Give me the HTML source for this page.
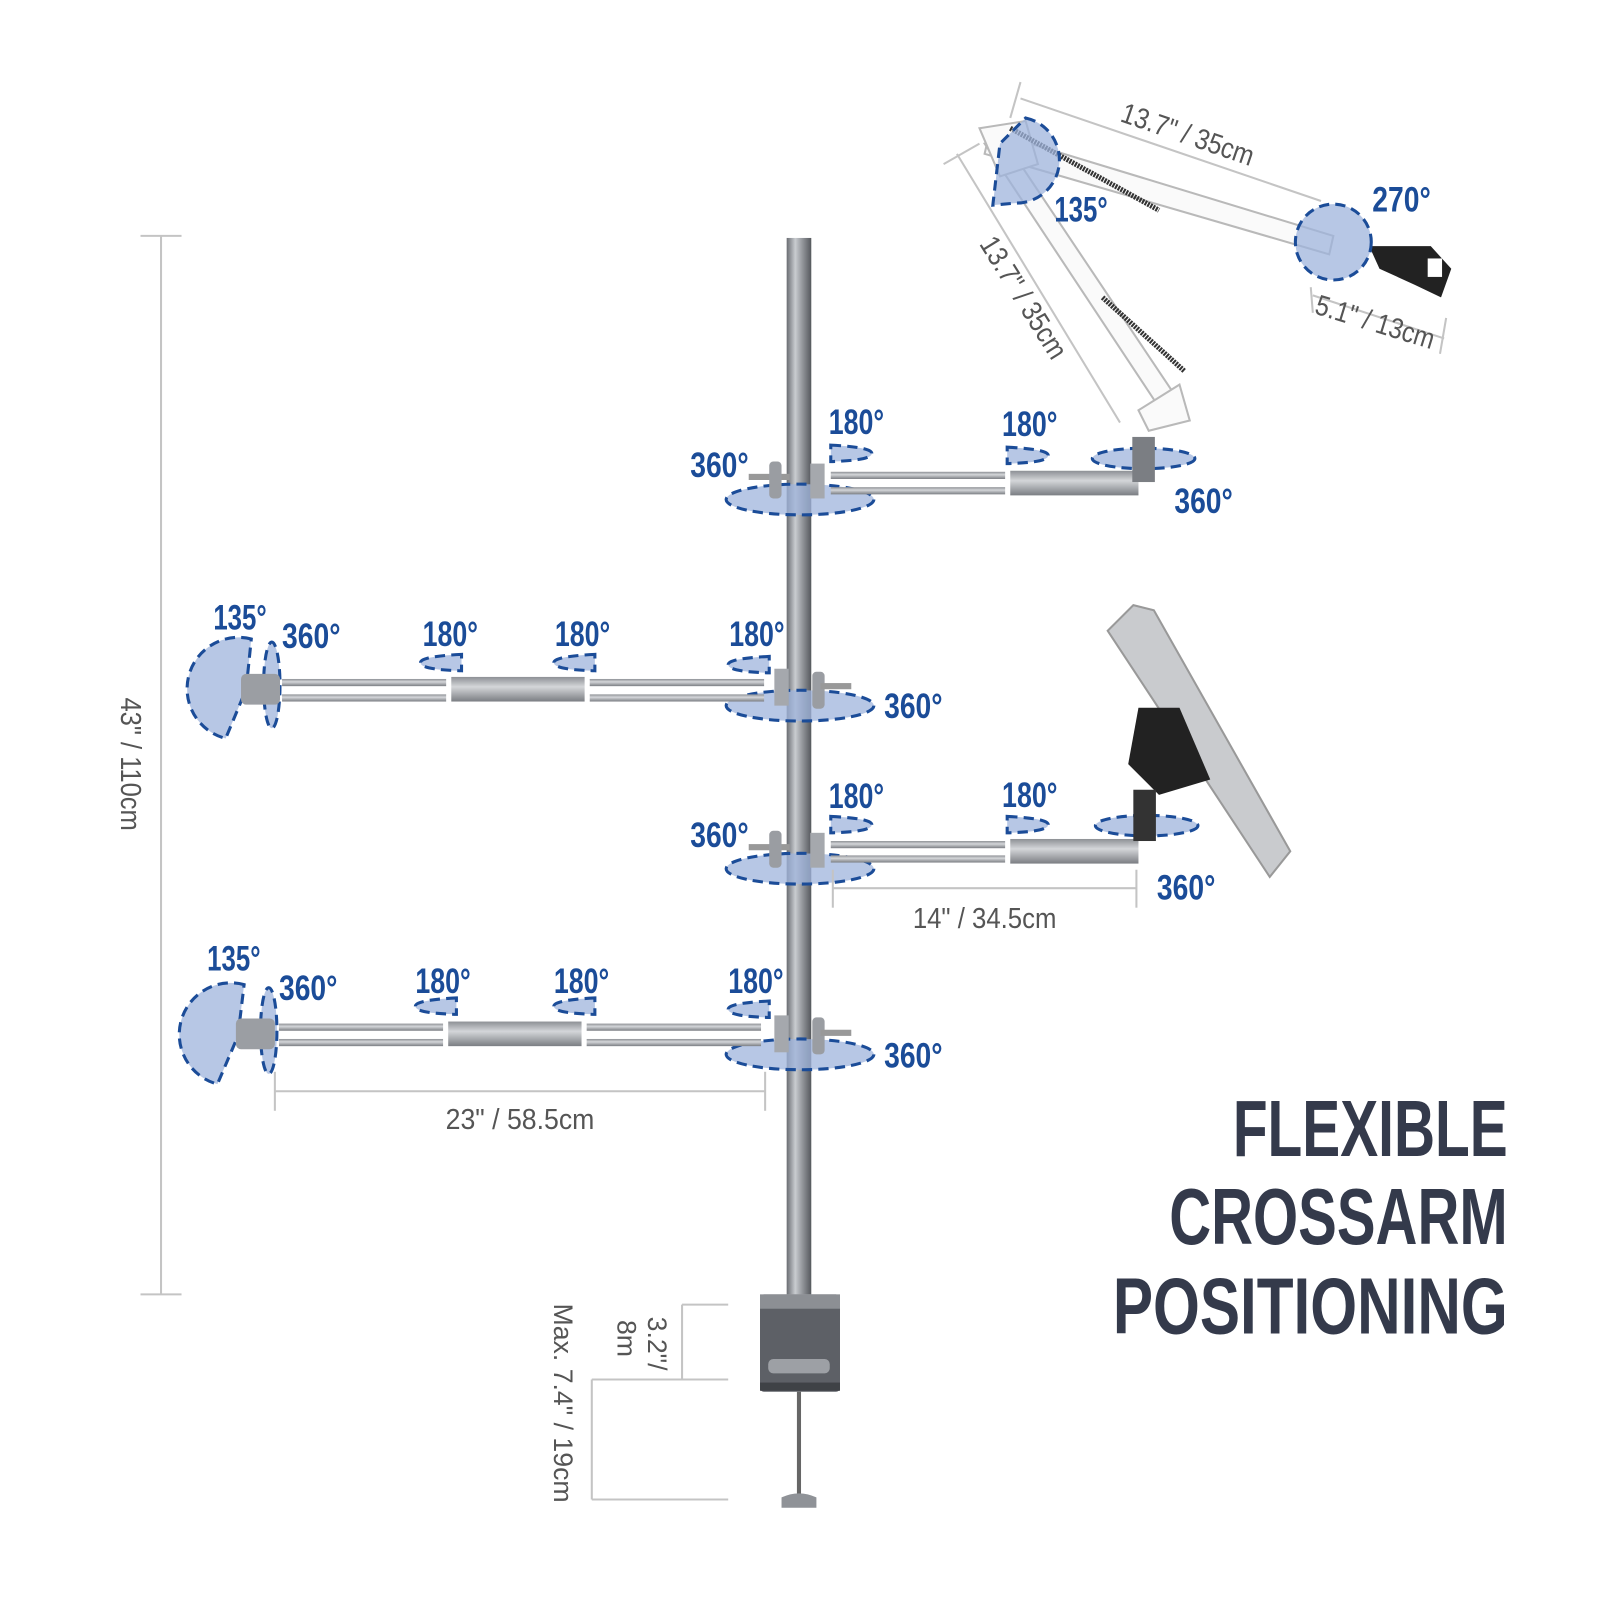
<!DOCTYPE html>
<html><head><meta charset="utf-8"><style>html,body{margin:0;padding:0;background:#fff}svg{display:block}</style></head>
<body>
<svg width="1600" height="1600" viewBox="0 0 1560 1560" xmlns="http://www.w3.org/2000/svg">
<defs>
<linearGradient id="pole" x1="0" x2="1"><stop offset="0" stop-color="#6a6d72"/><stop offset=".35" stop-color="#c9ccd0"/><stop offset=".6" stop-color="#9a9da2"/><stop offset="1" stop-color="#55585d"/></linearGradient>
<linearGradient id="bar" x1="0" y1="0" x2="0" y2="1"><stop offset="0" stop-color="#8d9095"/><stop offset=".4" stop-color="#d4d6d9"/><stop offset="1" stop-color="#7b7e83"/></linearGradient>
<style>
.b{font-family:"Liberation Sans Narrow","Liberation Sans",sans-serif;font-weight:bold;fill:#1b4c98;font-size:34px}
.g{font-family:"Liberation Sans Narrow","Liberation Sans",sans-serif;fill:#555;font-size:28px}
.t{font-family:"Liberation Sans Narrow","Liberation Sans",sans-serif;font-weight:bold;fill:#343a4b;font-size:78px}
.e{fill:#9fb4dc;fill-opacity:.75;stroke:#1b4c98;stroke-width:3;stroke-dasharray:10 6}
.d{stroke:#c4c4c4;stroke-width:2;fill:none}
</style>
</defs>

<line class="d" x1="157" y1="230" x2="157" y2="1262"/>
<line class="d" x1="137" y1="230" x2="177" y2="230"/>
<line class="d" x1="137" y1="1262" x2="177" y2="1262"/>
<text class="g" transform="translate(118,745) rotate(90)" text-anchor="middle" textLength="130" lengthAdjust="spacingAndGlyphs">43" / 110cm</text>

<rect x="767" y="232" width="24" height="1030" fill="url(#pole)"/>
<rect x="741" y="1262" width="78" height="95" rx="4" fill="#5d6066"/>
<rect x="741" y="1262" width="78" height="14" fill="#8c8f94"/>
<rect x="749" y="1325" width="60" height="14" rx="5" fill="#9da0a5"/>
<rect x="741" y="1348" width="78" height="8" fill="#3f4246"/>
<line x1="779" y1="1357" x2="779" y2="1460" stroke="#666" stroke-width="4"/>
<path d="M762 1460 Q779 1452 796 1460 L796 1470 L762 1470Z" fill="#8f9297"/>
<line class="d" x1="665" y1="1272" x2="710" y2="1272"/>
<line class="d" x1="577" y1="1345" x2="710" y2="1345"/>
<line class="d" x1="577" y1="1462" x2="710" y2="1462"/>
<line class="d" x1="665" y1="1272" x2="665" y2="1345"/>
<line class="d" x1="577" y1="1345" x2="577" y2="1462"/>
<text class="g" style="font-family:'Liberation Sans',sans-serif;font-size:26px" transform="translate(632,1310) rotate(90)" text-anchor="middle">3.2"/</text>
<text class="g" style="font-family:'Liberation Sans',sans-serif;font-size:26px" transform="translate(602,1305) rotate(90)" text-anchor="middle">8m</text>
<text class="g" style="font-family:'Liberation Sans',sans-serif;font-size:26px" transform="translate(540,1368) rotate(90)" text-anchor="middle">Max. 7.4" / 19cm</text>

<!-- ARM 1 -->
<ellipse class="e" cx="780" cy="487" rx="72" ry="15"/>
<rect x="810" y="460" width="170" height="7" fill="url(#bar)"/>
<rect x="810" y="475" width="170" height="7" fill="url(#bar)"/>
<rect x="985" y="459" width="125" height="24" fill="url(#bar)"/>
<rect x="730" y="462" width="40" height="6" fill="#999"/>
<rect x="750" y="450" width="12" height="36" rx="4" fill="#9a9da2"/>
<rect x="790" y="452" width="14" height="34" fill="#a5a8ad"/>
<path class="e" d="M810 434 Q850 436 850 442 Q850 449 810 450Z"/>
<path class="e" d="M982 436 Q1022 438 1022 444 Q1022 451 982 452Z"/>
<ellipse class="e" cx="1115" cy="447" rx="50" ry="10"/>
<rect x="1104" y="426" width="22" height="44" fill="#7b7e83"/>
<text class="b" x="808" y="423" textLength="54" lengthAdjust="spacingAndGlyphs">180°</text>
<text class="b" x="977" y="425" textLength="54" lengthAdjust="spacingAndGlyphs">180°</text>
<text class="b" x="673" y="465" textLength="57" lengthAdjust="spacingAndGlyphs">360°</text>
<text class="b" x="1145" y="500" textLength="57" lengthAdjust="spacingAndGlyphs">360°</text>

<!-- boom arm -->
<g stroke="#b9b9b9" stroke-width="2" fill="#fafafa">
<polygon points="965,128 1300,230 1296,248 960,150"/>
<polygon points="960,140 978,135 1150,392 1132,400"/>
<polygon points="1110,400 1150,375 1160,410 1120,420"/>
<polygon points="955,125 1000,118 1012,160 975,172"/>
</g>
<line x1="985" y1="125" x2="1130" y2="205" stroke="#333" stroke-width="5" stroke-dasharray="2 1"/>
<line x1="1075" y1="290" x2="1155" y2="362" stroke="#333" stroke-width="5" stroke-dasharray="2 1"/>
<path d="M1335 240 L1395 240 L1415 262 L1405 290 L1380 278 L1345 262Z" fill="#222"/>
<rect x="1392" y="252" width="14" height="18" fill="#fff"/>
<path class="e" d="M1000 115 A42 42 0 0 1 990 198 L968 200 L975 140Z"/>
<circle class="e" cx="1300" cy="236" r="37"/>
<line class="d" x1="995" y1="96" x2="1288" y2="196"/>
<line class="d" x1="995" y1="80" x2="985" y2="115"/>
<line class="d" x1="920" y1="160" x2="955" y2="140"/>
<line class="d" x1="933" y1="150" x2="1092" y2="412"/>
<line class="d" x1="1280" y1="288" x2="1408" y2="330"/>
<line class="d" x1="1278" y1="280" x2="1280" y2="305"/>
<line class="d" x1="1410" y1="310" x2="1404" y2="345"/>
<text class="g" transform="translate(1155,140) rotate(19)" text-anchor="middle" textLength="135" lengthAdjust="spacingAndGlyphs">13.7" / 35cm</text>
<text class="g" transform="translate(990,295) rotate(58)" text-anchor="middle" textLength="135" lengthAdjust="spacingAndGlyphs">13.7" / 35cm</text>
<text class="g" transform="translate(1338,323) rotate(17)" text-anchor="middle" textLength="120" lengthAdjust="spacingAndGlyphs">5.1" / 13cm</text>
<text class="b" x="1028" y="216" textLength="52" lengthAdjust="spacingAndGlyphs">135°</text>
<text class="b" x="1338" y="206" textLength="57" lengthAdjust="spacingAndGlyphs">270°</text>

<!-- ARM 2 -->
<ellipse class="e" cx="780" cy="688" rx="72" ry="15"/>
<path class="e" d="M245 623 A50 50 0 0 0 220 720 L240 672Z"/>
<ellipse class="e" cx="265" cy="668" rx="8" ry="42"/>
<rect x="275" y="662" width="160" height="7" fill="url(#bar)"/>
<rect x="275" y="677" width="160" height="7" fill="url(#bar)"/>
<rect x="440" y="660" width="130" height="24" fill="url(#bar)"/>
<rect x="575" y="662" width="170" height="7" fill="url(#bar)"/>
<rect x="575" y="677" width="170" height="7" fill="url(#bar)"/>
<rect x="235" y="657" width="38" height="30" rx="5" fill="#9b9ea3"/>
<rect x="755" y="652" width="14" height="36" fill="#a5a8ad"/>
<rect x="792" y="655" width="12" height="36" rx="4" fill="#9a9da2"/>
<rect x="800" y="666" width="30" height="6" fill="#999"/>
<path class="e" d="M450 638 Q410 640 410 646 Q410 653 450 654Z"/>
<path class="e" d="M580 638 Q540 640 540 646 Q540 653 580 654Z"/>
<path class="e" d="M750 640 Q710 642 710 648 Q710 655 750 656Z"/>
<text class="b" x="208" y="614" textLength="52" lengthAdjust="spacingAndGlyphs">135°</text>
<text class="b" x="275" y="632" textLength="57" lengthAdjust="spacingAndGlyphs">360°</text>
<text class="b" x="412" y="630" textLength="54" lengthAdjust="spacingAndGlyphs">180°</text>
<text class="b" x="541" y="630" textLength="54" lengthAdjust="spacingAndGlyphs">180°</text>
<text class="b" x="711" y="630" textLength="54" lengthAdjust="spacingAndGlyphs">180°</text>
<text class="b" x="862" y="700" textLength="57" lengthAdjust="spacingAndGlyphs">360°</text>

<!-- ARM 3 -->
<ellipse class="e" cx="780" cy="847" rx="72" ry="15"/>
<rect x="810" y="820" width="170" height="7" fill="url(#bar)"/>
<rect x="810" y="834" width="170" height="7" fill="url(#bar)"/>
<rect x="985" y="818" width="125" height="24" fill="url(#bar)"/>
<rect x="730" y="823" width="40" height="6" fill="#999"/>
<rect x="750" y="810" width="12" height="36" rx="4" fill="#9a9da2"/>
<rect x="790" y="812" width="14" height="34" fill="#a5a8ad"/>
<path class="e" d="M810 796 Q850 798 850 804 Q850 811 810 812Z"/>
<path class="e" d="M982 796 Q1022 798 1022 804 Q1022 811 982 812Z"/>
<ellipse class="e" cx="1118" cy="805" rx="50" ry="10"/>
<polygon points="1105,590 1125,595 1258,830 1238,855 1080,615" fill="#c9cbce" stroke="#999" stroke-width="2"/>
<polygon points="1110,690 1150,690 1180,760 1130,775 1100,745" fill="#222"/>
<rect x="1105" y="770" width="22" height="50" fill="#333"/>
<text class="b" x="808" y="788" textLength="54" lengthAdjust="spacingAndGlyphs">180°</text>
<text class="b" x="977" y="787" textLength="54" lengthAdjust="spacingAndGlyphs">180°</text>
<text class="b" x="673" y="826" textLength="57" lengthAdjust="spacingAndGlyphs">360°</text>
<text class="b" x="1128" y="877" textLength="57" lengthAdjust="spacingAndGlyphs">360°</text>
<line class="d" x1="812" y1="866" x2="1108" y2="866"/>
<line class="d" x1="812" y1="848" x2="812" y2="885"/>
<line class="d" x1="1108" y1="848" x2="1108" y2="885"/>
<text class="g" x="960" y="905" text-anchor="middle" textLength="140" lengthAdjust="spacingAndGlyphs">14" / 34.5cm</text>

<!-- ARM 4 -->
<ellipse class="e" cx="780" cy="1028" rx="72" ry="15"/>
<path class="e" d="M238 960 A50 50 0 0 0 212 1057 L232 1010Z"/>
<ellipse class="e" cx="262" cy="1005" rx="8" ry="42"/>
<rect x="272" y="998" width="160" height="7" fill="url(#bar)"/>
<rect x="272" y="1013" width="160" height="7" fill="url(#bar)"/>
<rect x="437" y="996" width="130" height="24" fill="url(#bar)"/>
<rect x="572" y="998" width="170" height="7" fill="url(#bar)"/>
<rect x="572" y="1013" width="170" height="7" fill="url(#bar)"/>
<rect x="230" y="993" width="38" height="30" rx="5" fill="#9b9ea3"/>
<rect x="755" y="990" width="14" height="36" fill="#a5a8ad"/>
<rect x="792" y="992" width="12" height="36" rx="4" fill="#9a9da2"/>
<rect x="800" y="1004" width="30" height="6" fill="#999"/>
<path class="e" d="M445 973 Q405 975 405 981 Q405 988 445 989Z"/>
<path class="e" d="M580 973 Q540 975 540 981 Q540 988 580 989Z"/>
<path class="e" d="M750 976 Q710 978 710 984 Q710 991 750 992Z"/>
<text class="b" x="202" y="946" textLength="52" lengthAdjust="spacingAndGlyphs">135°</text>
<text class="b" x="272" y="975" textLength="57" lengthAdjust="spacingAndGlyphs">360°</text>
<text class="b" x="405" y="968" textLength="54" lengthAdjust="spacingAndGlyphs">180°</text>
<text class="b" x="540" y="968" textLength="54" lengthAdjust="spacingAndGlyphs">180°</text>
<text class="b" x="710" y="968" textLength="54" lengthAdjust="spacingAndGlyphs">180°</text>
<text class="b" x="862" y="1041" textLength="57" lengthAdjust="spacingAndGlyphs">360°</text>
<line class="d" x1="268" y1="1064" x2="746" y2="1064"/>
<line class="d" x1="268" y1="1045" x2="268" y2="1083"/>
<line class="d" x1="746" y1="1045" x2="746" y2="1083"/>
<text class="g" x="507" y="1101" text-anchor="middle" textLength="145" lengthAdjust="spacingAndGlyphs">23" / 58.5cm</text>

<text class="t" x="1470" y="1127" text-anchor="end" textLength="268" lengthAdjust="spacingAndGlyphs">FLEXIBLE</text>
<text class="t" x="1470" y="1213" text-anchor="end" textLength="330" lengthAdjust="spacingAndGlyphs">CROSSARM</text>
<text class="t" x="1470" y="1300" text-anchor="end" textLength="385" lengthAdjust="spacingAndGlyphs">POSITIONING</text>
</svg>
</body></html>
